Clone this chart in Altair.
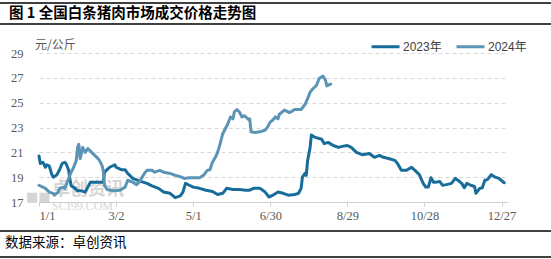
import altair as alt
import pandas as pd

title_text = "图 1 全国白条猪肉市场成交价格走势图"
footer_text = "数据来源：卓创资讯"
unit_text = "元/公斤"
series_names = ["2023年", "2024年"]
series_colors = ["#176C9A", "#5B94B4"]
tick_days = [0, 60, 120, 180, 240, 300, 360]
tick_labels = ["1/1", "3/2", "5/1", "6/30", "8/29", "10/28", "12/27"]
y_ticks = [17, 19, 21, 23, 25, 27, 29]

days_2023 = [0, 1, 3, 5, 6, 8, 10, 11, 14, 16, 18, 20, 21, 23, 24, 25, 28, 30, 33, 36, 38, 40, 45, 50, 51, 55, 59, 60,
             64, 67, 69, 73, 78, 84, 88, 93, 97, 102, 106, 110, 112, 114, 117, 120, 125, 130, 135, 139, 143, 146, 151,
             156, 161, 164, 167, 172, 176, 179, 182, 186, 190, 194, 199, 202, 204, 205, 207, 208, 209, 211, 212, 215,
             220, 222, 225, 229, 233, 237, 240, 243, 247, 252, 257, 261, 265, 268, 272, 277, 279, 282, 286, 290, 294,
             296, 299, 301, 303, 305, 307, 309, 312, 314, 317, 321, 324, 326, 329, 331, 333, 336, 339, 340, 343, 345,
             347, 349, 352, 355, 358, 362]
vals_2023 = [20.7, 20.1, 20.2, 19.8, 20.0, 19.9, 19.2, 19.0, 19.2, 19.6, 20.1, 20.2, 20.1, 19.6, 18.9, 18.3, 18.1, 17.9,
             17.9, 17.8, 18.2, 18.6, 18.6, 18.6, 19.4, 19.8, 20.0, 19.8, 19.6, 19.6, 19.3, 18.9, 18.7, 18.5, 18.3, 18.1,
             17.8, 17.7, 17.35, 17.5, 17.8, 18.5, 18.35, 18.2, 18.1, 17.95, 17.85, 17.6, 17.7, 18.1, 18.0, 18.0, 17.95,
             17.95, 18.1, 18.1, 17.8, 17.4, 17.55, 17.8, 17.7, 17.55, 17.6, 17.7, 18.1, 19.0, 19.3, 19.15, 20.3, 21.4,
             22.4, 22.2, 22.05, 21.7, 21.8, 21.55, 21.4, 21.5, 21.55, 21.4, 21.0, 20.8, 20.9, 20.6, 20.75, 20.6, 20.5,
             20.35, 20.1, 19.55, 19.55, 19.8, 19.4, 19.2, 18.5, 18.2, 18.2, 18.95, 18.6, 18.6, 18.65, 18.35, 18.4, 18.5,
             18.9, 18.75, 18.5, 18.15, 18.5, 18.35, 18.25, 17.7, 18.1, 18.15, 18.75, 18.8, 19.2, 19.0, 18.9, 18.55]

days_2024 = [0, 5, 8, 11, 12, 15, 16, 19, 20, 21, 23, 25, 27, 29, 30, 31, 32, 33, 34, 36, 38, 41, 45, 47, 49, 50, 51,
             53, 58, 63, 67, 69, 73, 76, 78, 82, 84, 88, 90, 94, 97, 102, 106, 111, 113, 117, 125, 128, 131, 133, 135,
             138, 139, 141, 143, 147, 149, 151, 152, 154, 156, 158, 160, 163, 164, 165, 168, 172, 176, 178, 180, 182,
             184, 186, 187, 191, 195, 199, 204, 207, 209, 211, 213, 216, 218, 221, 223, 224, 226, 227]
vals_2024 = [18.35, 18.1, 17.8, 17.7, 17.55, 17.8, 18.1, 18.2, 18.1, 18.35, 18.9, 19.4, 19.8, 20.35, 21.4, 21.65, 20.5,
             20.9, 21.4, 21.0, 21.3, 21.0, 20.6, 20.35, 19.95, 19.55, 18.35, 18.0, 17.9, 17.95, 18.2, 18.75, 18.6, 18.4,
             18.6, 19.3, 19.55, 19.55, 19.4, 19.55, 19.4, 19.3, 19.15, 19.0, 18.9, 18.95, 18.95, 19.15, 19.55, 19.6,
             20.2, 20.75, 21.0, 21.7, 22.5, 23.3, 23.85, 23.7, 24.25, 24.45, 24.25, 23.85, 23.95, 23.65, 23.7, 22.65,
             22.6, 22.65, 22.8, 23.05, 23.45, 23.6, 23.85, 23.7, 24.05, 24.4, 24.2, 24.45, 24.45, 24.85, 25.3, 25.85,
             26.1, 26.4, 26.95, 27.15, 26.8, 26.35, 26.45, 26.5]

df = pd.concat([
    pd.DataFrame({"day": days_2023, "price": vals_2023, "series": series_names[0]}),
    pd.DataFrame({"day": days_2024, "price": vals_2024, "series": series_names[1]}),
])

W, H = 469, 149
PL, PT = 39, 53
TOTAL_W, TOTAL_H = 551, 259

label_expr = "[" + ",".join("'%s'" % t for t in tick_labels) + "][round(datum.value/60)]"

serif = "Liberation Serif"
cjk = "Noto Sans CJK SC"

lines = alt.Chart(df).mark_line(strokeWidth=3, strokeJoin="round", strokeCap="round").encode(
    x=alt.X("day:Q", scale=alt.Scale(domain=[0, 365], nice=False, zero=False),
            axis=alt.Axis(values=tick_days, labelExpr=label_expr, title=None, grid=False,
                          domainColor="#D0D0D0", tickColor="#D0D0D0", tickSize=4,
                          labelFont=serif, labelFontSize=12.5, labelColor="#595959", labelPadding=3)),
    y=alt.Y("price:Q", scale=alt.Scale(domain=[17, 29], nice=False, zero=False),
            axis=alt.Axis(values=y_ticks, title=None, domain=False, ticks=False, grid=True,
                          gridColor="#D9D9D9", gridDash=[4, 3], gridWidth=1,
                          labelFont=serif, labelFontSize=12.5, labelColor="#595959", labelPadding=16)),
    color=alt.Color("series:N", scale=alt.Scale(domain=series_names, range=series_colors),
                    legend=alt.Legend(title=None, orient="none", legendX=331, legendY=-22, direction="horizontal",
                                      symbolType="stroke", symbolSize=784, symbolStrokeWidth=3,
                                      labelFont="Liberation Sans, " + cjk, labelFontSize=12, labelColor="#404040",
                                      labelOffset=2, columnPadding=8, padding=0)),
    detail="series:N",
)

def text_layer(txt, x, y, size, color, font, weight="normal", align="left", opacity=1.0):
    return alt.Chart(pd.DataFrame({"t": [txt]})).mark_text(
        align=align, baseline="middle", fontSize=size, font=font, fontWeight=weight, color=color, opacity=opacity
    ).encode(x=alt.value(x), y=alt.value(y), text="t:N")

def hrule(y, width=1.5):
    return alt.Chart(pd.DataFrame({"a": [0]})).mark_rule(color="#000000", strokeWidth=width).encode(
        x=alt.value(-PL), x2=alt.value(TOTAL_W - PL), y=alt.value(y))

title = text_layer(title_text, 9 - PL, 14 - PT, 14.5, "#000000", cjk, weight="bold")
unit = text_layer(unit_text, 35 - PL, 45 - PT, 12, "#595959", cjk)
footer = text_layer(footer_text, 5 - PL, 243 - PT, 13.5, "#000000", cjk)
wm1 = text_layer("卓创资讯", 52 - PL, 190 - PT, 18, "#C8C8C8", cjk, weight="bold", opacity=0.75)
wm2 = text_layer("SCI99.COM", 52 - PL, 206 - PT, 12, "#C8C8C8", serif, opacity=0.75)
wm0 = text_layer("■■", 26 - PL, 197 - PT, 13, "#C8C8C8", "DejaVu Sans", opacity=0.75)

chart = alt.layer(
    wm0, wm1, wm2, lines, title, unit, footer,
    hrule(3 - PT), hrule(24 - PT), hrule(231 - PT), hrule(257 - PT),
).properties(
    width=W, height=H,
    autosize=alt.AutoSizeParams(type="none"),
    padding={"left": PL, "top": PT, "right": TOTAL_W - PL - W, "bottom": TOTAL_H - PT - H},
    background="white",
).configure_view(stroke=None)

chart.save("out.html", embed_options={"renderer": "svg", "actions": False})
